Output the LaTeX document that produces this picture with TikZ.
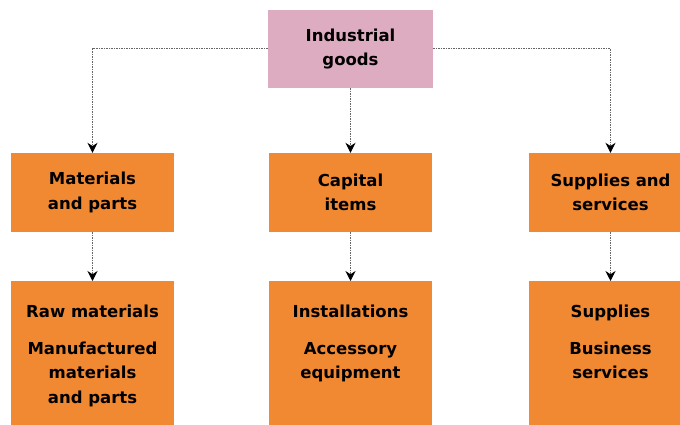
\documentclass[tikz,border=0pt]{standalone}
\usepackage{fontspec}
\setmainfont{DejaVu Sans}
\usepackage{tikz}
\usetikzlibrary{arrows.meta}
\definecolor{boxorange}{RGB}{241,136,50}
\definecolor{boxpink}{RGB}{222,172,192}

\begin{document}
\begin{tikzpicture}[x=1pt, y=-1pt,
    box/.style={fill=boxorange, minimum width=163pt, inner sep=0pt},
    boxtext/.style={align=center, inner sep=0pt, font=\bfseries\fontsize{16.5}{24.5}\selectfont},
    link/.style={dash pattern=on 1.5pt off 1pt, gray!80!black, line width=1pt, -{Stealth[black, length=10pt, width=10pt]}}]
    \useasboundingbox (0,0) rectangle (680,425);
    % top box
    \node [box, boxtext, fill=boxpink, minimum width=165pt, minimum height=78pt] (goods) at (350.5,49) {Industrial\\goods};
    % middle row
    \node [box, boxtext, minimum height=79pt] (materials) at (92.5,192.5) {Materials\\and parts};
    \node [box, boxtext, minimum height=79pt] (capital) at (350.5,192.5) {Capital\\items};
    \node [box, boxtext, minimum height=79pt] (supplies) at (610.5,192.5) {Supplies and\\services};
    % bottom row
    \foreach \name/\x in {matlist/92.5, caplist/350.5, suplist/610.5} {
      \node [box, anchor=north, minimum height=160pt] (\name) at (\x,281) {};
    }
    \node [boxtext, anchor=north] (mattext) at (92.5,305) {Raw materials\\[12pt]Manufactured\\materials\\and parts};
    \node [boxtext, anchor=north] (captext) at (350.5,305) {Installations\\[12pt]Accessory\\equipment};
    \node [boxtext, anchor=north] (suptext) at (610.5,305) {Supplies\\[12pt]Business\\services};
    % connectors
    \draw [link] (goods.west) -| (materials);
    \draw [link] (goods) -- (capital);
    \draw [link] (goods.east) -| (supplies);
    \draw [link] (materials) -- (matlist);
    \draw [link] (capital) -- (caplist);
    \draw [link] (supplies) -- (suplist);
  \end{tikzpicture}
\end{document}
